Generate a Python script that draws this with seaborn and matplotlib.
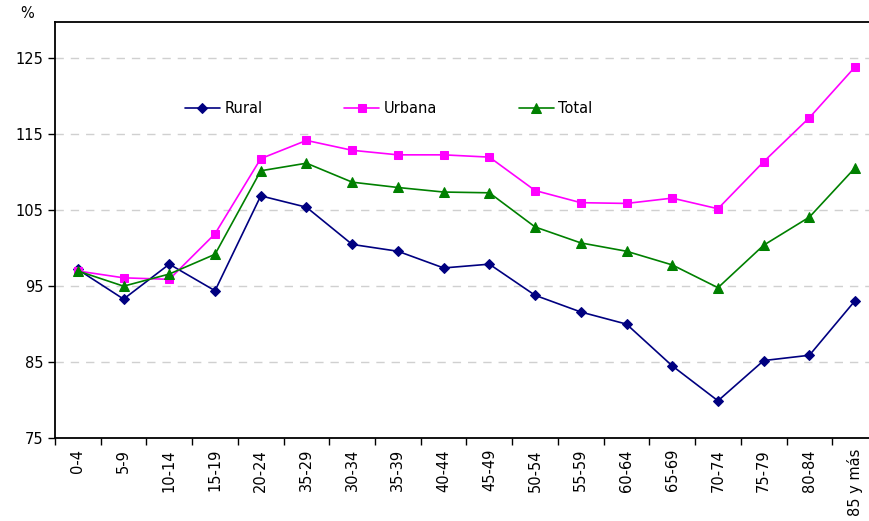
import matplotlib
matplotlib.use('Agg')
import matplotlib.pyplot as plt
import seaborn as sns
import pandas as pd

# grupos de edad (tal cual aparecen en el original)
grupos = ['0-4', '5-9', '10-14', '15-19', '20-24', '35-29', '30-34', '35-39',
          '40-44', '45-49', '50-54', '55-59', '60-64', '65-69', '70-74',
          '75-79', '80-84', '85 y más']

rural = [97.2, 93.3, 97.9, 94.4, 106.9, 105.4, 100.5, 99.6, 97.4, 97.9,
         93.8, 91.6, 90.0, 84.5, 79.9, 85.2, 85.9, 93.1]
urbana = [97.0, 96.1, 95.9, 101.9, 111.8, 114.2, 112.9, 112.3, 112.3, 112.0,
          107.6, 106.0, 105.9, 106.6, 105.2, 111.4, 117.2, 123.9]
total = [97.0, 95.0, 96.6, 99.2, 110.2, 111.2, 108.7, 108.0, 107.4, 107.3,
         102.8, 100.7, 99.6, 97.8, 94.8, 100.4, 104.1, 110.6]

yticks = [75, 85, 95, 105, 115, 125]

sns.set_style('white')
plt.rcParams['font.family'] = ['DejaVu Sans']
plt.rcParams['text.color'] = 'black'
plt.rcParams['xtick.color'] = 'black'
plt.rcParams['ytick.color'] = 'black'

df = pd.DataFrame({'pos': range(len(grupos)), 'Rural': rural,
                   'Urbana': urbana, 'Total': total})

fig = plt.figure(figsize=(8.7, 5.21), dpi=100)
ax = fig.add_axes([55 / 870, 83 / 521, 823 / 870, 416 / 521])

sns.lineplot(data=df, x='pos', y='Rural', ax=ax, color='#000080', marker='D',
             markersize=5.5, markeredgecolor='#000080', linewidth=1.2, label='Rural')
sns.lineplot(data=df, x='pos', y='Urbana', ax=ax, color='#FF00FF', marker='s',
             markersize=6, markeredgecolor='#FF00FF', linewidth=1.2, label='Urbana')
sns.lineplot(data=df, x='pos', y='Total', ax=ax, color='#008000', marker='^',
             markersize=7, markeredgecolor='#008000', linewidth=1.2, label='Total')

ax.set_xlim(-0.5, len(grupos) - 0.5)
ax.set_ylim(75, 129.8)
ax.set_yticks(yticks)
ax.set_yticklabels([str(v) for v in yticks], fontsize=10.5)
ax.set_xticks(range(len(grupos)))
ax.set_xticklabels(grupos, rotation=90, fontsize=10.5)
ax.set_xticks([i - 0.5 for i in range(len(grupos) + 1)], minor=True)
ax.tick_params(axis='x', which='major', length=0, pad=8)
ax.tick_params(axis='x', which='minor', length=5, width=1, direction='out', bottom=True)
ax.tick_params(axis='y', length=5, width=1, direction='out', left=True)
ax.set_xlabel('')
ax.set_ylabel('')

for v in yticks[1:]:
    ax.axhline(v, color='#d0d0d0', linestyle=(0, (6, 5)), linewidth=1, zorder=0)

for side in ['left', 'bottom', 'top']:
    ax.spines[side].set_color('black')
    ax.spines[side].set_linewidth(1.3)
ax.spines['right'].set_visible(False)

ax.legend(loc='center left', bbox_to_anchor=(0.142, 0.792), ncol=3, frameon=False,
          fontsize=10.5, handlelength=2.4, columnspacing=5.6, handletextpad=0.3)

fig.text(20 / 870, 1 - 14 / 521, '%', fontsize=10.5, va='center', ha='left')

fig.savefig('out.png', dpi=100)
